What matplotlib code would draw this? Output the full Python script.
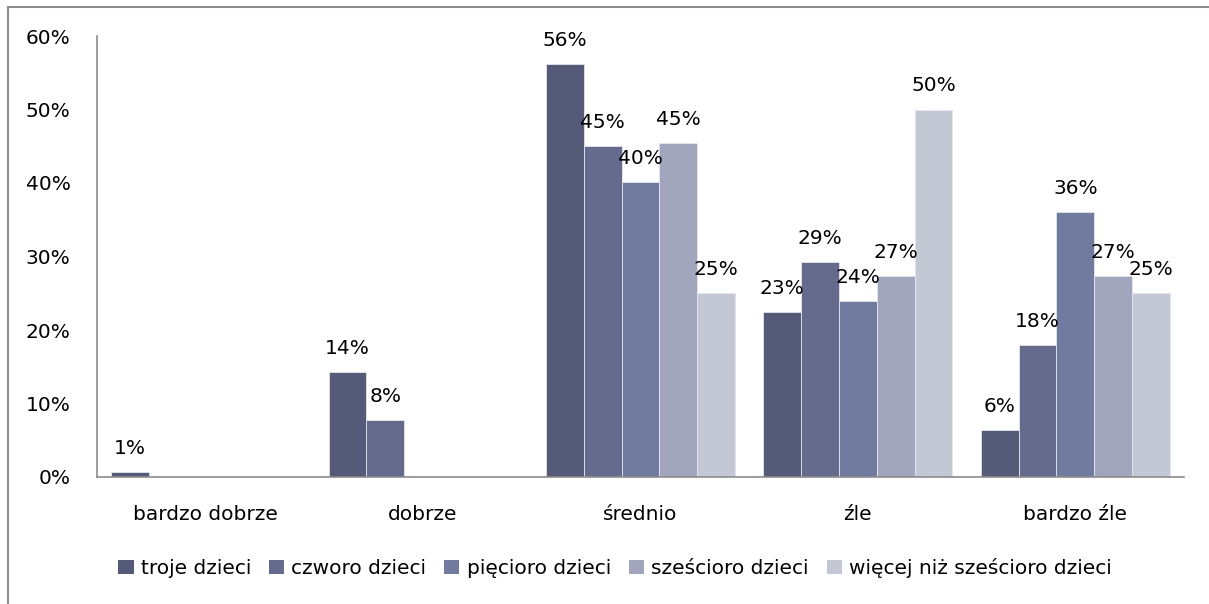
import matplotlib
matplotlib.use("Agg")
import matplotlib.pyplot as plt
from matplotlib.patches import Patch
from matplotlib.lines import Line2D
from matplotlib.ticker import PercentFormatter
import numpy as np

plt.rcParams['font.family'] = ['DejaVu Sans']

categories = ["bardzo dobrze", "dobrze", "średnio", "źle", "bardzo źle"]
series_names = ["troje dzieci", "czworo dzieci", "pięcioro dzieci",
                "sześcioro dzieci", "więcej niż sześcioro dzieci"]
troje = [0.7, 14.3, 56.2, 22.5, 6.4]
czworo = [0.0, 7.8, 45.0, 29.3, 18.0]
piecioro = [0.0, 0.0, 40.1, 24.0, 36.1]
szescioro = [0.0, 0.0, 45.5, 27.3, 27.3]
wiecej = [0.0, 0.0, 25.0, 50.0, 25.0]
labels_troje = ["1%", "14%", "56%", "23%", "6%"]
labels_czworo = ["", "8%", "45%", "29%", "18%"]
labels_piecioro = ["", "", "40%", "24%", "36%"]
labels_szescioro = ["", "", "45%", "27%", "27%"]
labels_wiecej = ["", "", "25%", "50%", "25%"]
yticks = [0, 10, 20, 30, 40, 50, 60]

series = [troje, czworo, piecioro, szescioro, wiecej]
series_labels = [labels_troje, labels_czworo, labels_piecioro,
                 labels_szescioro, labels_wiecej]
colors = ["#545A78", "#646B8C", "#717BA0", "#A2A6BD", "#C4C7D4"]

W, H = 1209, 604
fig = plt.figure(figsize=(W / 100, H / 100), dpi=100)
ax = fig.add_axes([97 / W, 1 - 477 / H, (1184 - 97) / W, (477 - 36) / H])

fs = 14.5
x = np.arange(len(categories))
bw = 0.174
for i, (vals, labs, col) in enumerate(zip(series, series_labels, colors)):
    pos = x + (i - 2) * bw
    ax.bar(pos, vals, width=bw, color=col, edgecolor="#E4E6EE", linewidth=0.6,
           label=series_names[i])
    for px, v, lab in zip(pos, vals, labs):
        if lab:
            ax.annotate(lab, (px, v), xytext=(0, 13), textcoords="offset points",
                        ha="center", va="baseline", fontsize=fs, color="black")

ax.set_xlim(-0.5, len(categories) - 0.5)
ax.set_ylim(0, 60)
ax.set_yticks(yticks)
ax.yaxis.set_major_formatter(PercentFormatter(decimals=0))
ax.set_xticks(x)
ax.set_xticklabels(categories)
ax.tick_params(axis="both", length=0, labelsize=fs)
ax.tick_params(axis="y", pad=19)
ax.tick_params(axis="x", pad=20)
for s in ["top", "right"]:
    ax.spines[s].set_visible(False)
for s in ["left", "bottom"]:
    ax.spines[s].set_color("#8C8C8C")
    ax.spines[s].set_linewidth(1.2)

handles = [Patch(facecolor=c, edgecolor="none") for c in colors]
fig.legend(handles, series_names, loc="center", ncol=5,
           bbox_to_anchor=(615 / W, 1 - 568 / H), frameon=False, fontsize=fs,
           handlelength=0.75, handleheight=0.75, handletextpad=0.35,
           columnspacing=0.9)

# outer chart frame (partially visible)
fig.add_artist(Line2D([8 / W, 8 / W], [0, 1 - 7 / H], color="#8C8C8C",
                      linewidth=1.5, transform=fig.transFigure))
fig.add_artist(Line2D([8 / W, 1], [1 - 7 / H, 1 - 7 / H], color="#8C8C8C",
                      linewidth=1.5, transform=fig.transFigure))

fig.savefig("out.png", dpi=100)
